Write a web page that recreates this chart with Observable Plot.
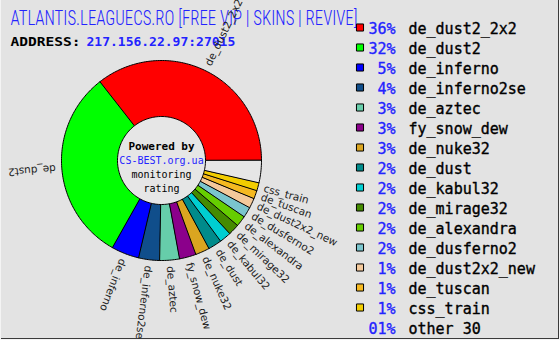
<!DOCTYPE html>
<html>
<head>
<meta charset="utf-8">
<script src="https://cdn.jsdelivr.net/npm/d3@7"></script>
<script src="https://cdn.jsdelivr.net/npm/@observablehq/plot@0.6"></script>
<style>
  html, body { margin: 0; padding: 0; background: #f4f4f4; }
  #wrap { position: relative; width: 560px; height: 340px; overflow: hidden; background: #f4f4f4; }
  #bg { position: absolute; left: 1px; top: 0; width: 557px; height: 338px; background: #e3e3e3;
        border-right: 1px solid #3a3a3a; border-bottom: 1px solid #3a3a3a; }
  #wrap svg { position: absolute; top: 0; }
</style>
</head>
<body>
<div id="wrap"><div id="bg"></div></div>
<script>
// ---- data ----
const names = ["de_dust2_2x2", "de_dust2", "de_inferno", "de_inferno2se", "de_aztec", "fy_snow_dew",
  "de_nuke32", "de_dust", "de_kabul32", "de_mirage32", "de_alexandra", "de_dusferno2",
  "de_dust2x2_new", "de_tuscan", "css_train", "other 30"];
const values = [35.7, 31.4, 4.5, 3.4, 3.2, 2.7, 2.3, 2.2, 1.9, 1.8, 1.75, 1.7, 1.6, 1.35, 1.3, 3.6];
const percentLabels = ["36%", "32%", "5%", "4%", "3%", "3%", "3%", "2%", "2%", "2%", "2%", "2%", "1%", "1%", "1%", "01%"];
const colors = ["#ff0000", "#00ff00", "#0000ff", "#104e8b", "#66cdaa", "#8b008b", "#daa520", "#008b8b",
  "#00ced1", "#458b00", "#66cd00", "#7ac5cd", "#f4c99b", "#f5b921", "#f2cd00", "#e6e6e6"];
const hasSwatch = [true, true, true, true, true, true, true, true, true, true, true, true, true, true, true, false];
const sliceLabels = ["de_dust2_2x2", "de_dust2", "de_inferno", "de_inferno2se", "de_aztec", "fy_snow_dew",
  "de_nuke32", "de_dust", "de_kabul32", "de_mirage32", "de_alexandra", "de_dusferno2",
  "de_dust2x2_new", "de_tuscan", "css_train", ""];
const title = "ATLANTIS.LEAGUECS.RO [FREE VIP | SKINS | REVIVE]";
const addressLabel = "ADDRESS:";
const address = "217.156.22.97:27015";
const centerLines = ["Powered by", "CS-BEST.org.ua", "monitoring", "rating"];

// ---- layout ----
const W = 560, H = 340, CX = 161, CY = 160, R = 100;
const INNER = 0.44, LABEL_R = 1.06;
const BLUE = "#2323ff";

const rows = names.map((n, i) => ({name: n, value: values[i], color: colors[i], pct: percentLabels[i],
  label: sliceLabels[i], swatch: hasSwatch[i]}));

const arcs = d3.pie().sort(null).value(d => d.value)
  .startAngle(Math.PI / 2).endAngle(Math.PI / 2 - 2 * Math.PI)(rows);

function slicePoints(a) {
  const pts = [{x: 0, y: 0}];
  const n = Math.max(2, Math.ceil(Math.abs(a.endAngle - a.startAngle) / (Math.PI / 180)));
  for (let k = 0; k <= n; k++) {
    const t = a.startAngle + (a.endAngle - a.startAngle) * k / n;
    pts.push({x: Math.sin(t), y: Math.cos(t)});
  }
  return pts;
}
const circle = d3.range(0, 360, 2).map(d => {
  const t = d * Math.PI / 180;
  return {x: INNER * Math.sin(t), y: INNER * Math.cos(t)};
});
const labelData = arcs.filter(a => a.data.label).map(a => {
  const m = (a.startAngle + a.endAngle) / 2;
  return {x: LABEL_R * Math.sin(m), y: LABEL_R * Math.cos(m), text: a.data.label, rot: m * 180 / Math.PI - 90};
});

const monoFont = "DejaVu Sans Mono, monospace";
const centerStyles = [
  {fill: "#000", fontWeight: "bold", fontSize: 11, dy: -14},
  {fill: BLUE, fontWeight: "normal", fontSize: 10, dy: 0},
  {fill: "#000", fontWeight: "normal", fontSize: 10, dy: 14},
  {fill: "#000", fontWeight: "normal", fontSize: 10, dy: 28}
];

const main = Plot.plot({
  width: W, height: H, margin: 0,
  x: {domain: [-CX / R, (W - CX) / R], axis: null},
  y: {domain: [-(H - CY) / R, CY / R], axis: null},
  style: {background: "transparent", overflow: "visible"},
  marks: [
    ...arcs.map(a => Plot.line(slicePoints(a), {x: "x", y: "y", fill: a.data.color, stroke: "#000",
      strokeWidth: 1, curve: "linear-closed", strokeLinejoin: "miter"})),
    Plot.line(circle, {x: "x", y: "y", fill: "#e6e6e6", stroke: "#000", strokeWidth: 1, curve: "linear-closed"}),
    ...centerLines.map((t, i) => Plot.text([{x: 0, y: 0, t}], {x: "x", y: "y", text: "t",
      fontFamily: monoFont, ...centerStyles[i]})),
    Plot.text([title], {text: d => d, frameAnchor: "top-left", dx: 10, dy: 10, lineAnchor: "top",
      textAnchor: "start", fill: BLUE, fontFamily: "Roboto Condensed, Liberation Sans Narrow, DejaVu Sans Condensed, sans-serif",
      fontWeight: 300, fontSize: 21}),
    Plot.text([addressLabel], {text: d => d, frameAnchor: "top-left", dx: 10, dy: 36, lineAnchor: "top",
      textAnchor: "start", fill: "#000", fontFamily: monoFont, fontWeight: "bold", fontSize: 13}),
    Plot.text([address], {text: d => d, frameAnchor: "top-left", dx: 86, dy: 36, lineAnchor: "top",
      textAnchor: "start", fill: BLUE, fontFamily: monoFont, fontWeight: "bold", fontSize: 13}),
    Plot.text(labelData, {x: "x", y: "y", text: "text", rotate: "rot", textAnchor: "start",
      fill: "#222", fontFamily: "DejaVu Sans, sans-serif", fontSize: 10.5})
  ]
});
main.style.left = "0px";
for (const t of main.querySelectorAll("text")) {
  if (t.textContent === title) {
    t.setAttribute("textLength", 347);
    t.setAttribute("lengthAdjust", "spacingAndGlyphs");
  }
  if (t.textContent === addressLabel) {
    t.setAttribute("textLength", 70);
    t.setAttribute("lengthAdjust", "spacingAndGlyphs");
  }
}

const legend = Plot.plot({
  width: 220, height: H, margin: 0,
  y: {type: "point", domain: names, range: [28.5, 328.5], padding: 0, axis: null},
  color: {type: "identity"},
  style: {background: "transparent", overflow: "visible"},
  marks: [
    Plot.dot(rows.filter(d => d.swatch), {y: "name", frameAnchor: "left", dx: 19.5, dy: -2, symbol: "square",
      r: 4, fill: "color", stroke: "#000", strokeWidth: 1}),
    Plot.text(rows, {y: "name", text: "pct", frameAnchor: "left", dx: 55, textAnchor: "end",
      fill: BLUE, stroke: BLUE, strokeWidth: 0.35, fontFamily: monoFont, fontSize: 15}),
    Plot.text(rows, {y: "name", text: "name", frameAnchor: "left", dx: 68, textAnchor: "start",
      fill: "#000", stroke: "#000", strokeWidth: 0.35, fontFamily: monoFont, fontSize: 15})
  ]
});
legend.style.left = "340px";

const wrap = document.getElementById("wrap");
wrap.appendChild(main);
wrap.appendChild(legend);
</script>
</body>
</html>
